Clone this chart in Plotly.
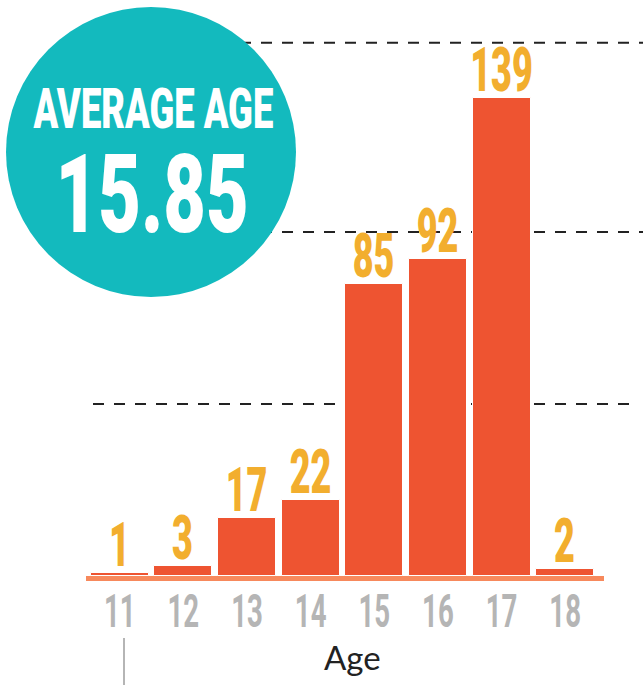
import plotly.graph_objects as go

ages = [11, 12, 13, 14, 15, 16, 17, 18]
counts = [1, 3, 17, 22, 85, 92, 139, 2]
tick_labels = [str(a) for a in ages]
grid_values = [50, 100, 155]
average_label = "AVERAGE AGE"
average_value = "15.85"
x_title = "Age"

BAR = "#EE5431"
BASE = "#F7895C"
LABEL = "#F2AE2E"
TEAL = "#13BABE"
GRAY = "#B5B5B5"
COND = "Roboto, Liberation Sans, sans-serif"

W, H = 643, 685
L, R, T, B = 86, 39, 0, 109
pw, ph = W - L - R, H - T - B


def px(x):
    return (x - L) / pw


def py(y):
    return (H - B - y) / ph


fig = go.Figure()
fig.add_trace(go.Bar(
    x=ages, y=counts, width=0.91,
    marker=dict(color=BAR, line=dict(color="white", width=1)),
    text=[str(c) for c in counts], textposition="outside", constraintext="none",
    textfont=dict(family=COND, size=62, color=LABEL, weight=900),
    cliponaxis=False, hoverinfo="skip",
))

shapes = []
for i, gv in enumerate(grid_values):
    xa, xb = (93, 635) if i == 0 else (93, 660)
    shapes.append(dict(type="line", xref="paper", yref="y", x0=px(xa), x1=px(xb),
                       y0=gv, y1=gv, layer="below",
                       line=dict(color="#222222", width=2, dash="11px,10px")))
cx, cy, r = 151, 152, 145
shapes.append(dict(type="circle", xref="paper", yref="paper",
                   x0=px(cx - r), x1=px(cx + r), y0=py(cy + r), y1=py(cy - r),
                   fillcolor=TEAL, line=dict(width=0), layer="above"))
shapes.append(dict(type="line", xref="paper", yref="paper",
                   x0=px(124), x1=px(124), y0=py(638), y1=py(690),
                   line=dict(color=GRAY, width=2)))

annotations = [
    dict(text=average_label, xref="paper", yref="paper", x=px(153), y=py(109),
         showarrow=False, xanchor="center", yanchor="middle",
         font=dict(family=COND, size=56, color="white", weight=900)),
    dict(text=average_value, xref="paper", yref="paper", x=px(152), y=py(194),
         showarrow=False, xanchor="center", yanchor="middle",
         font=dict(family=COND, size=110, color="white", weight=900)),
    dict(text=x_title, xref="paper", yref="paper", x=px(352), y=py(657),
         showarrow=False, xanchor="center", yanchor="middle",
         font=dict(family="Lato, Open Sans, sans-serif", size=33, color="#222222")),
]

fig.update_layout(
    width=W, height=H, margin=dict(l=L, r=R, t=T, b=B, pad=0),
    paper_bgcolor="white", plot_bgcolor="white", showlegend=False,
    bargap=0, shapes=shapes, annotations=annotations,
    xaxis=dict(range=[10.47, 18.61], tickvals=ages, ticktext=tick_labels,
               tickfont=dict(family=COND, size=46, color=GRAY, weight="bold"),
               showline=True, linecolor=BASE, linewidth=5, ticks="",
               showgrid=False, zeroline=False, fixedrange=True),
    yaxis=dict(range=[0, 167.4], visible=False, showgrid=False, zeroline=False,
               fixedrange=True),
)

post = """
document.body.style.margin = '0';
var gd = document.getElementById('{plot_id}');
function squeeze(el, sx, dy) {
  var bb = el.getBBox();
  var cx = bb.x + bb.width / 2;
  var t = el.getAttribute('transform') || '';
  el.setAttribute('transform', t + ' translate(0,' + dy + ') translate(' + cx + ',0) scale(' + sx + ',1) translate(' + (-cx) + ',0)');
}
gd.querySelectorAll('text.bartext').forEach(function(el){ squeeze(el, 0.58, 11); });
gd.querySelectorAll('.xtick text').forEach(function(el){ squeeze(el, 0.60, -9); });
gd.querySelectorAll('g.annotation[data-index="0"] text').forEach(function(el){ squeeze(el, 0.65, 0); });
gd.querySelectorAll('g.annotation[data-index="1"] text').forEach(function(el){ squeeze(el, 0.67, 0); });
"""

fig.write_html("out.html", config={"displayModeBar": False}, post_script=post)
